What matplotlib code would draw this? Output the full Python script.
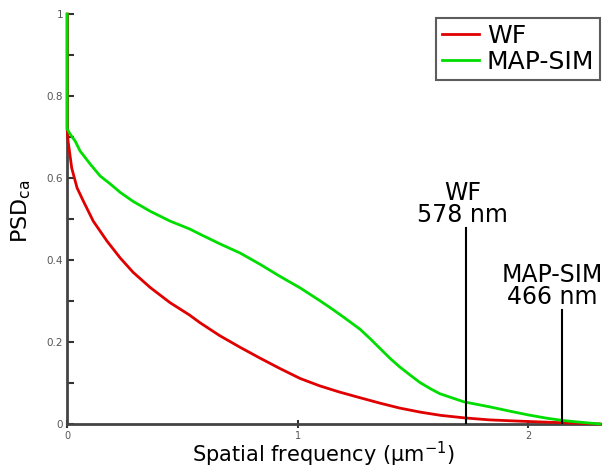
import matplotlib
matplotlib.use("Agg")
import matplotlib.pyplot as plt
import numpy as np

# Data
wf_x = [0.0, 0.0, 0.004, 0.02, 0.043, 0.07, 0.113, 0.173, 0.23, 0.286, 0.36, 0.446,
        0.53, 0.576, 0.66, 0.75, 0.835, 0.92, 1.01, 1.095, 1.18, 1.27, 1.355,
        1.44, 1.53, 1.62, 1.72, 1.83, 2.0, 2.15, 2.31]
wf_y = [1.0, 0.72, 0.69, 0.624, 0.576, 0.544, 0.495, 0.446, 0.405, 0.37, 0.333, 0.296,
        0.266, 0.247, 0.216, 0.187, 0.161, 0.136, 0.111, 0.093, 0.078, 0.064, 0.051,
        0.039, 0.029, 0.021, 0.015, 0.01, 0.006, 0.003, 0.0]

sim_x = [0.0, 0.0, 0.013, 0.035, 0.056, 0.10, 0.143, 0.186, 0.23, 0.286, 0.36, 0.446,
         0.53, 0.576, 0.62, 0.66, 0.75, 0.835, 0.92, 1.01, 1.095, 1.15, 1.2, 1.27,
         1.31, 1.355, 1.40, 1.44, 1.49, 1.53, 1.575, 1.615, 1.72, 1.83, 1.93, 2.0,
         2.08, 2.156, 2.23, 2.31]
sim_y = [1.0, 0.72, 0.707, 0.69, 0.666, 0.634, 0.605, 0.586, 0.565, 0.543, 0.519, 0.495,
         0.476, 0.463, 0.451, 0.44, 0.417, 0.39, 0.361, 0.332, 0.301, 0.28, 0.26, 0.231,
         0.21, 0.185, 0.16, 0.14, 0.118, 0.101, 0.086, 0.074, 0.054, 0.042, 0.03, 0.022,
         0.014, 0.008, 0.004, 0.0]

cutoff_x = [1 / 0.578, 1 / 0.466]
cutoff_top = [0.478, 0.278]
cutoff_names = ["WF", "MAP-SIM"]
cutoff_nm = ["578 nm", "466 nm"]
text_shift = [-0.015, -0.043]

fig = plt.figure(figsize=(6.16, 4.69), dpi=100)
ax = fig.add_axes([0.109, 0.096, 0.865, 0.874])

ax.plot(wf_x, wf_y, color="#e00000", lw=2, label="WF", zorder=3, clip_on=False)
ax.plot(sim_x, sim_y, color="#00dd00", lw=2, label="MAP-SIM", zorder=3, clip_on=False)

for xc, yt, nm, val, dx in zip(cutoff_x, cutoff_top, cutoff_names, cutoff_nm, text_shift):
    ax.plot([xc, xc], [0, yt], color="black", lw=1.5, zorder=4)
    ax.annotate(val, (xc + dx, yt), xytext=(0, 4), textcoords="offset points",
                ha="center", va="baseline", fontsize=17, annotation_clip=False)
    ax.annotate(nm, (xc + dx, yt), xytext=(0, 20), textcoords="offset points",
                ha="center", va="baseline", fontsize=17, annotation_clip=False)

ax.set_xlim(0, 2.31)
ax.set_ylim(0, 1)
ax.set_xticks([0, 1, 2])
ax.set_xticklabels(["0", "1", "2"])
ax.set_yticks([0, 0.2, 0.4, 0.6, 0.8, 1.0])
ax.set_yticklabels(["0", "0.2", "0.4", "0.6", "0.8", "1"])
ax.set_yticks(np.arange(0.1, 1.0, 0.2), minor=True)
ax.tick_params(axis="y", labelsize=7.5, labelcolor="#555555", color="#333333",
               width=1.5, length=5, direction="in", pad=3)
ax.tick_params(axis="y", which="minor", length=5, width=1.5, direction="in", color="#333333")
ax.tick_params(axis="x", labelsize=7, labelcolor="#555555", color="#333333",
               width=1.5, length=6, direction="inout", pad=2)

for s in ["top", "right"]:
    ax.spines[s].set_visible(False)
for s in ["left", "bottom"]:
    ax.spines[s].set_color("#444444")
    ax.spines[s].set_linewidth(2)

ax.set_xlabel("Spatial frequency (µm$^{-1}$)", fontsize=15)
ax.xaxis.set_label_coords(0.48, -0.038)
ax.set_ylabel("PSD$_{\\mathrm{ca}}$", fontsize=16)
ax.yaxis.set_label_coords(-0.065, 0.52)

leg = ax.legend(loc="upper right", fontsize=18, frameon=True, fancybox=False,
                edgecolor="#333333", handlelength=1.5, handletextpad=0.3,
                labelspacing=0.1, borderpad=0.22, borderaxespad=0,
                bbox_to_anchor=(1.0, 0.99))
leg.get_frame().set_linewidth(1.5)

fig.savefig("out.png", dpi=100, facecolor="white")
